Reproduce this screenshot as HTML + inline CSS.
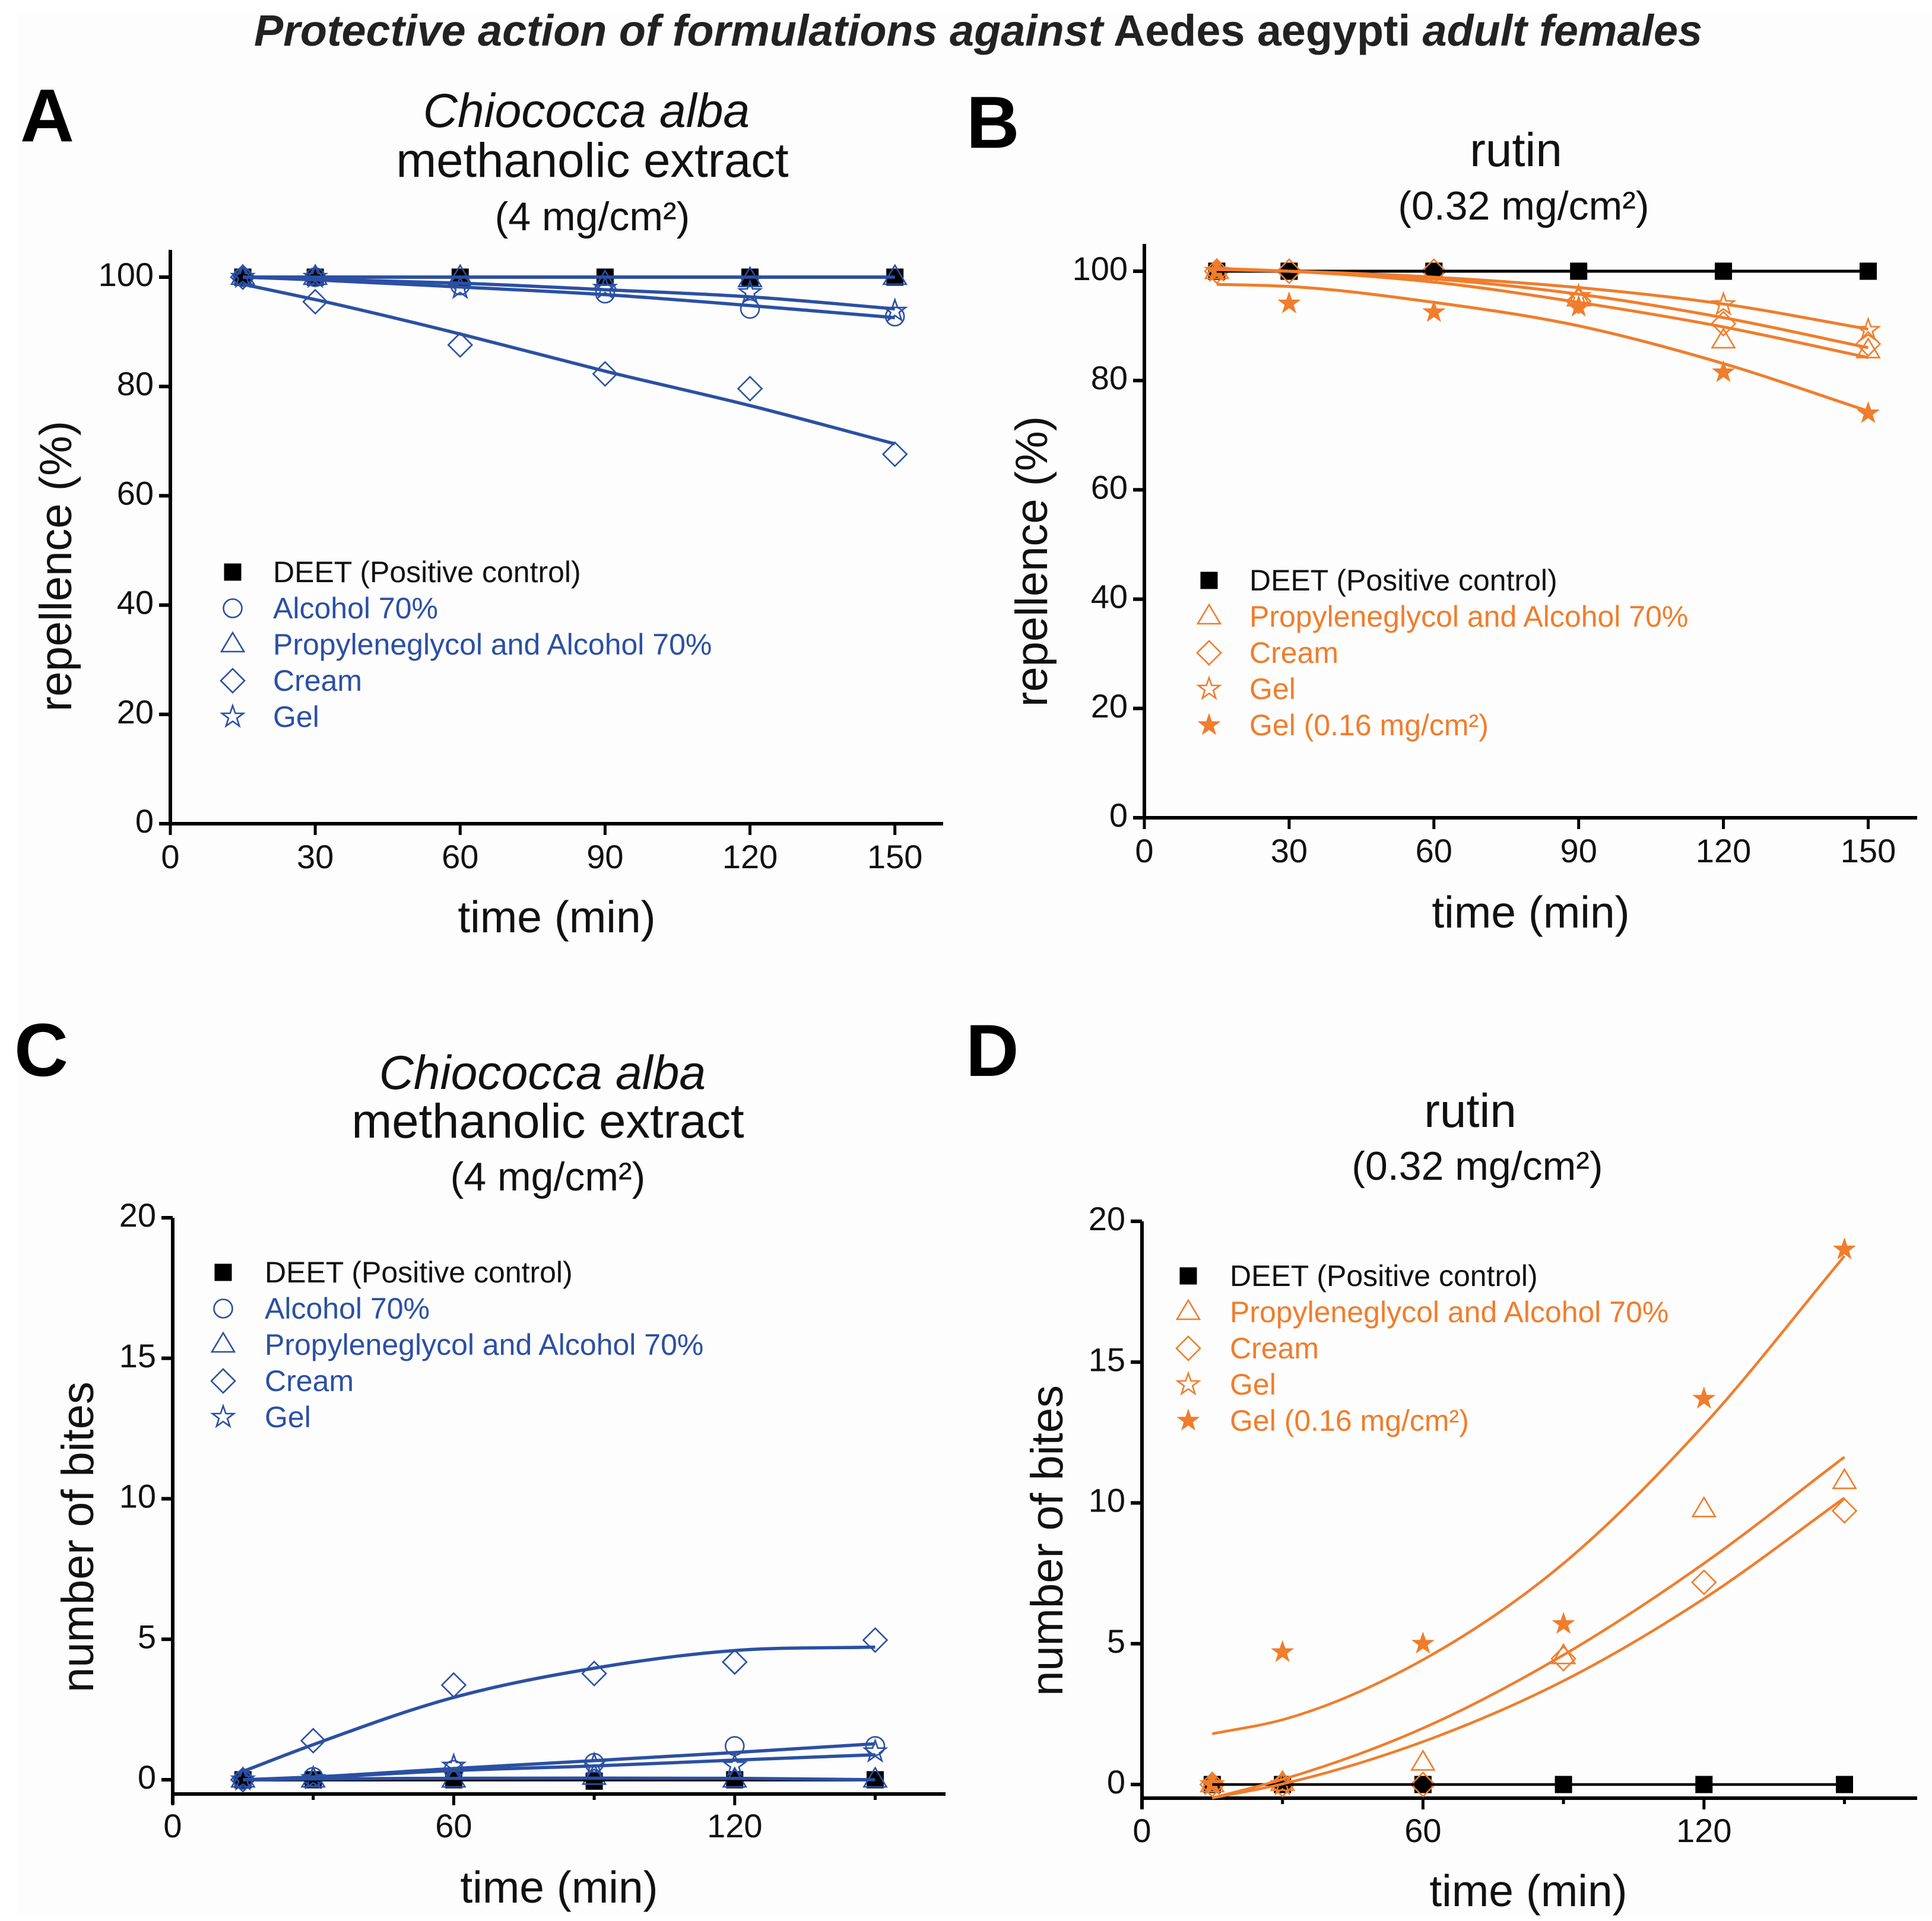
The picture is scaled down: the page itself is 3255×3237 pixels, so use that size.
<!DOCTYPE html>
<html lang="en">
<head>
<meta charset="utf-8">
<title>Protective action of formulations against Aedes aegypti adult females</title>
<style>
html,body{margin:0;padding:0;background:#ffffff;}
svg{display:block;font-family:"Liberation Sans",Arial,sans-serif;}
</style>
</head>
<body>
<svg id="figure" xmlns="http://www.w3.org/2000/svg" width="3255" height="3237" viewBox="0 0 3255 3237">
<rect x="0" y="0" width="3255" height="3237" fill="#ffffff"/>
<rect x="29" y="23" width="3226" height="3205" fill="#fdfdfd"/>
<text x="428" y="77" font-size="74" font-weight="bold" fill="#222" textLength="2440" lengthAdjust="spacingAndGlyphs"><tspan font-style="italic">Protective action of formulations against</tspan> Aedes aegypti <tspan font-style="italic">adult females</tspan></text>

<text x="34" y="238" font-size="126" font-weight="bold" fill="#000">A</text>
<text x="1628" y="249" font-size="124" font-weight="bold" fill="#000">B</text>
<text x="24" y="1813" font-size="126" font-weight="bold" fill="#000">C</text>
<text x="1627" y="1813" font-size="124" font-weight="bold" fill="#000">D</text>

<g text-anchor="middle" fill="#111">
<text x="988" y="214" font-size="80.5" font-style="italic">Chiococca alba</text>
<text x="998" y="298" font-size="81.5">methanolic extract</text>
<text x="998" y="388" font-size="68">(4 mg/cm²)</text>
<text x="2554" y="280" font-size="80">rutin</text>
<text x="2567" y="370" font-size="68">(0.32 mg/cm²)</text>
<text x="914" y="1835" font-size="80.5" font-style="italic">Chiococca alba</text>
<text x="923" y="1917" font-size="81.5">methanolic extract</text>
<text x="923" y="2006" font-size="68">(4 mg/cm²)</text>
<text x="2477" y="1899" font-size="80">rutin</text>
<text x="2489" y="1988" font-size="68">(0.32 mg/cm²)</text>
</g>
<g id="panels"></g>
</svg>
<script>
// Shared time categories (minutes)
const times = [15, 30, 60, 90, 120, 150];
const fitTimes = [15, 30, 60, 90, 120, 150];

// Tick labels
const repellenceTicks = [0, 20, 40, 60, 80, 100];
const bitesTicks = [0, 5, 10, 15, 20];
const timeTicksAB = [0, 30, 60, 90, 120, 150];
const timeLabelsAB = [0, 30, 60, 90, 120, 150];
const timeTicksCD = [0, 30, 60, 90, 120, 150];
const timeLabelsCD = [0, 60, 120];

// Panel A values: repellence (%)
const aDeet = [100, 100, 100, 100, 100, 100];
const aAlcohol = [100, 100, 98.5, 97, 94.2, 92.8];
const aPropylene = [100, 100, 100, 99, 99.6, 100];
const aCream = [100, 95.5, 87.6, 82.3, 79.6, 67.6];
const aGel = [100, 100, 98, 98, 97.2, 93.8];
const aFitDeet = [100, 100, 100, 100, 100, 100];
const aFitAlcohol = [100, 99.5, 98.2, 96.8, 94.8, 92.6];
const aFitPropylene = [100, 100, 100, 100, 100, 100];
const aFitCream = [98.7, 95.9, 89.6, 82.8, 76.5, 69.5];
const aFitGel = [100, 99.6, 98.9, 97.7, 96.4, 94.2];

// Panel B values: repellence (%)
const bDeet = [100, 100, 100, 100, 100, 100];
const bPropylene = [100, null, null, 95, 87.3, 85.5];
const bCream = [100, 100, 100, 94.5, 90.4, 86.7];
const bGel = [100, null, null, 95.4, 93.9, 89.2];
const bGelLow = [100, 94.1, 92.5, 93.5, 81.5, 74];
const bFitDeet = [100, 100, 100, 100, 100, 100];
const bFitPropylene = [100.5, 100, 98, 94.3, 89.8, 84.2];
const bFitCream = [100.5, 100, 98.6, 95.8, 91.5, 86];
const bFitGel = [100.3, 100, 98.9, 97, 94, 89.4];
const bFitGelLow = [97.6, 97.2, 94.3, 90, 83.1, 74.4];

// Panel C values: number of bites
const cDeet = [0, 0, 0, -0.05, 0, 0];
const cAlcohol = [0, 0.1, 0.35, 0.6, 1.2, 1.2];
const cPropylene = [0, 0, 0, 0.1, 0, 0];
const cCream = [0, 1.39, 3.37, 3.78, 4.19, 4.97];
const cGel = [0, 0.05, 0.49, 0.53, 0.5, 1];
const cFitDeet = [0, 0, 0, 0, 0, 0];
const cFitAlcohol = [0, 0.1, 0.4, 0.68, 0.97, 1.28];
const cFitPropylene = [0, 0.03, 0.05, 0.06, 0.05, 0];
const cFitCream = [0.3, 1.25, 2.93, 3.97, 4.6, 4.72];
const cFitGel = [0, 0.08, 0.33, 0.49, 0.7, 0.89];

// Panel D values: number of bites
const dDeet = [0, 0, 0, 0, 0, 0];
const dPropylene = [0, 0.05, 0.77, 4.55, 9.77, 10.77];
const dCream = [0, 0, 0, 4.47, 7.18, 9.72];
const dGel = [0, 0, null, null, null, null];
const dGelLow = [0, 4.7, 5, 5.7, 13.7, 19];
const dFitDeet = [0, 0, 0, 0, 0, 0];
const dFitPropylene = [-0.48, 0.18, 2, 4.6, 7.85, 11.63];
const dFitCream = [-0.48, 0.02, 1.52, 3.68, 6.6, 10.18];
const dFitGelLow = [1.8, 2.3, 4.43, 7.85, 12.77, 18.77];

const BLUE = '#2b50a3';
const ORANGE = '#f07d2c';
const NS = 'http://www.w3.org/2000/svg';

function make(tag, parent, attrs) {
  const el = document.createElementNS(NS, tag);
  for (const k in attrs) el.setAttribute(k, attrs[k]);
  parent.appendChild(el);
  return el;
}

function marker(parent, shape, cx, cy, color) {
  const sw = 2.6;
  let el;
  if (shape === 'square') {
    el = make('rect', parent, {x: cx - 14.5, y: cy - 14.5, width: 29, height: 29, fill: '#000'});
  } else if (shape === 'circle') {
    el = make('circle', parent, {cx: cx, cy: cy, r: 15.5, fill: 'none', stroke: color, 'stroke-width': sw});
  } else if (shape === 'triangle') {
    el = make('polygon', parent, {points: (cx - 19) + ',' + (cy + 12) + ' ' + (cx + 19) + ',' + (cy + 12) + ' ' + cx + ',' + (cy - 20), fill: 'none', stroke: color, 'stroke-width': sw});
  } else if (shape === 'diamond') {
    el = make('polygon', parent, {points: (cx - 20) + ',' + cy + ' ' + cx + ',' + (cy - 20) + ' ' + (cx + 20) + ',' + cy + ' ' + cx + ',' + (cy + 20), fill: 'none', stroke: color, 'stroke-width': sw});
  } else {
    const pts = [];
    for (let i = 0; i < 10; i++) {
      const r = i % 2 ? 7.5 : 19;
      const a = -Math.PI / 2 + i * Math.PI / 5;
      pts.push((cx + r * Math.cos(a)).toFixed(1) + ',' + (cy + r * Math.sin(a)).toFixed(1));
    }
    const filled = shape === 'star-filled';
    el = make('polygon', parent, {points: pts.join(' '), fill: filled ? color : 'none', stroke: color, 'stroke-width': filled ? 1 : sw});
  }
  return el;
}

function curvePath(xs, ys, sx, sy) {
  const n = xs.length;
  const m = [];
  for (let i = 0; i < n; i++) {
    if (i === 0) m.push((ys[1] - ys[0]) / (xs[1] - xs[0]));
    else if (i === n - 1) m.push((ys[n - 1] - ys[n - 2]) / (xs[n - 1] - xs[n - 2]));
    else {
      const d0 = (ys[i] - ys[i - 1]) / (xs[i] - xs[i - 1]);
      const d1 = (ys[i + 1] - ys[i]) / (xs[i + 1] - xs[i]);
      const h0 = xs[i] - xs[i - 1], h1 = xs[i + 1] - xs[i];
      m.push((d0 * h1 + d1 * h0) / (h0 + h1));
    }
  }
  let d = 'M' + sx(xs[0]).toFixed(1) + ' ' + sy(ys[0]).toFixed(1);
  for (let i = 0; i < n - 1; i++) {
    const h = xs[i + 1] - xs[i];
    const c1x = xs[i] + h / 3, c1y = ys[i] + m[i] * h / 3;
    const c2x = xs[i + 1] - h / 3, c2y = ys[i + 1] - m[i + 1] * h / 3;
    d += 'C' + sx(c1x).toFixed(1) + ' ' + sy(c1y).toFixed(1) + ' ' + sx(c2x).toFixed(1) + ' ' + sy(c2y).toFixed(1) + ' ' + sx(xs[i + 1]).toFixed(1) + ' ' + sy(ys[i + 1]).toFixed(1);
  }
  return d;
}

function drawPanel(p) {
  const root = document.getElementById('panels');
  const g = make('g', root, {});
  
  

  const sx = t => p.x0 + t * p.xScale;
  const sy = v => p.y0 - v * p.yScale;

  // Axes
  const yAxis = make('line', g, {x1: p.x0, x2: p.x0, y1: p.yTop, y2: p.yAxisBottom, stroke: '#000', 'stroke-width': 6});
  
  
  const xAxis = make('line', g, {x1: p.x0 - 3, x2: p.xEnd, y1: p.xAxisY, y2: p.xAxisY, stroke: '#000', 'stroke-width': 6});
  
  

  p.yTicks.forEach(v => {
    const t = make('line', g, {x1: p.x0 - 19, x2: p.x0, y1: sy(v), y2: sy(v), stroke: '#000', 'stroke-width': 6});
    
    
    const l = make('text', g, {x: p.x0 - 28, y: sy(v) + 15, 'font-size': 56, 'text-anchor': 'end', fill: '#111'});
    l.textContent = v;
    
    
  });
  p.xTicks.forEach(v => {
    const labelled = p.xLabels.indexOf(v) >= 0;
    const len = labelled ? 19 : 10;
    const t = make('line', g, {x1: sx(v), x2: sx(v), y1: p.xAxisY, y2: p.xAxisY + len, stroke: '#000', 'stroke-width': 5});
    
    
  });
  p.xLabels.forEach(v => {
    const l = make('text', g, {x: sx(v), y: p.xLabelY, 'font-size': 56, 'text-anchor': 'middle', fill: '#111'});
    l.textContent = v;
    
    
  });

  const xt = make('text', g, {x: p.xTitleX, y: p.xTitleY, 'font-size': 75, 'text-anchor': 'middle', fill: '#111'});
  xt.textContent = 'time (min)';
  
  
  const yt = make('text', g, {x: 0, y: 0, transform: 'translate(' + p.yTitleX + ' ' + p.yTitleY + ') rotate(-90)', 'font-size': 76, 'text-anchor': 'middle', fill: '#111'});
  yt.textContent = p.yTitle;
  
  

  // Series markers
  p.series.forEach(s => {
    s.values.forEach((v, i) => {
      if (v === null) return;
      const m = marker(g, s.shape, sx(times[i]), sy(v), s.color);
      
      
    });
  });
  // Fit lines on top of markers
  p.series.forEach(s => {
    if (!s.fit) return;
    const path = make('path', g, {d: curvePath(fitTimes, s.fit, sx, sy), fill: 'none', stroke: s.color === 'black' ? '#000' : s.color, 'stroke-width': p.lineWidth});
    
    
  });

  // Legend
  p.series.forEach((s, i) => {
    const y = p.legendY + i * 61;
    const m = marker(g, s.shape, p.legendMarkerX, y, s.color);
    
    
    const t = make('text', g, {x: p.legendTextX, y: y + 17, 'font-size': 50, fill: s.key === 'deet' ? '#111' : s.color});
    t.textContent = s.label;
    
    
  });
}

drawPanel({
  x0: 287, xScale: 8.138, xEnd: 1589, y0: 1388, yScale: 9.21, yTop: 421, yAxisBottom: 1391, xAxisY: 1388,
  yTicks: repellenceTicks, xTicks: timeTicksAB, xLabels: timeLabelsAB, xLabelY: 1463,
  xTitleX: 938, xTitleY: 1571, yTitleX: 120, yTitleY: 954, yTitle: 'repellence (%)', lineWidth: 5.5,
  legendMarkerX: 392, legendTextX: 460, legendY: 964,
  series: [
    {key: 'deet', label: 'DEET (Positive control)', shape: 'square', color: 'black', values: aDeet, fit: aFitDeet},
    {key: 'alcohol', label: 'Alcohol 70%', shape: 'circle', color: BLUE, values: aAlcohol, fit: aFitAlcohol},
    {key: 'propyleneglycol', label: 'Propyleneglycol and Alcohol 70%', shape: 'triangle', color: BLUE, values: aPropylene, fit: aFitPropylene},
    {key: 'cream', label: 'Cream', shape: 'diamond', color: BLUE, values: aCream, fit: aFitCream},
    {key: 'gel', label: 'Gel', shape: 'star', color: BLUE, values: aGel, fit: aFitGel}
  ]
});

drawPanel({
  x0: 1928, xScale: 8.13, xEnd: 3230, y0: 1378, yScale: 9.21, yTop: 411, yAxisBottom: 1381, xAxisY: 1378,
  yTicks: repellenceTicks, xTicks: timeTicksAB, xLabels: timeLabelsAB, xLabelY: 1453,
  xTitleX: 2579, xTitleY: 1563, yTitleX: 1764, yTitleY: 946, yTitle: 'repellence (%)', lineWidth: 5,
  legendMarkerX: 2037, legendTextX: 2105, legendY: 978,
  series: [
    {key: 'deet', label: 'DEET (Positive control)', shape: 'square', color: 'black', values: bDeet, fit: bFitDeet},
    {key: 'propyleneglycol', label: 'Propyleneglycol and Alcohol 70%', shape: 'triangle', color: ORANGE, values: bPropylene, fit: bFitPropylene},
    {key: 'cream', label: 'Cream', shape: 'diamond', color: ORANGE, values: bCream, fit: bFitCream},
    {key: 'gel', label: 'Gel', shape: 'star', color: ORANGE, values: bGel, fit: bFitGel},
    {key: 'gel-low-dose', label: 'Gel (0.16 mg/cm²)', shape: 'star-filled', color: ORANGE, values: bGelLow, fit: bFitGelLow}
  ]
});

drawPanel({
  x0: 291, xScale: 7.89, xEnd: 1593, y0: 2999, yScale: 47.35, yTop: 2052, yAxisBottom: 3040, xAxisY: 3023,
  yTicks: bitesTicks, xTicks: timeTicksCD, xLabels: timeLabelsCD, xLabelY: 3096,
  xTitleX: 942, xTitleY: 3206, yTitleX: 157, yTitleY: 2590, yTitle: 'number of bites', lineWidth: 5.5,
  legendMarkerX: 376, legendTextX: 446, legendY: 2144,
  series: [
    {key: 'deet', label: 'DEET (Positive control)', shape: 'square', color: 'black', values: cDeet, fit: cFitDeet},
    {key: 'alcohol', label: 'Alcohol 70%', shape: 'circle', color: BLUE, values: cAlcohol, fit: cFitAlcohol},
    {key: 'propyleneglycol', label: 'Propyleneglycol and Alcohol 70%', shape: 'triangle', color: BLUE, values: cPropylene, fit: cFitPropylene},
    {key: 'cream', label: 'Cream', shape: 'diamond', color: BLUE, values: cCream, fit: cFitCream},
    {key: 'gel', label: 'Gel', shape: 'star', color: BLUE, values: cGel, fit: cFitGel}
  ]
});

drawPanel({
  x0: 1924, xScale: 7.89, xEnd: 3230, y0: 3007, yScale: 47.45, yTop: 2058, yAxisBottom: 3048, xAxisY: 3030,
  yTicks: bitesTicks, xTicks: timeTicksCD, xLabels: timeLabelsCD, xLabelY: 3104,
  xTitleX: 2575, xTitleY: 3212, yTitleX: 1790, yTitleY: 2596, yTitle: 'number of bites', lineWidth: 4.5,
  legendMarkerX: 2002, legendTextX: 2072, legendY: 2150,
  series: [
    {key: 'deet', label: 'DEET (Positive control)', shape: 'square', color: 'black', values: dDeet, fit: dFitDeet},
    {key: 'propyleneglycol', label: 'Propyleneglycol and Alcohol 70%', shape: 'triangle', color: ORANGE, values: dPropylene, fit: dFitPropylene},
    {key: 'cream', label: 'Cream', shape: 'diamond', color: ORANGE, values: dCream, fit: dFitCream},
    {key: 'gel', label: 'Gel', shape: 'star', color: ORANGE, values: dGel},
    {key: 'gel-low-dose', label: 'Gel (0.16 mg/cm²)', shape: 'star-filled', color: ORANGE, values: dGelLow, fit: dFitGelLow}
  ]
});
</script>
</body>
</html>
